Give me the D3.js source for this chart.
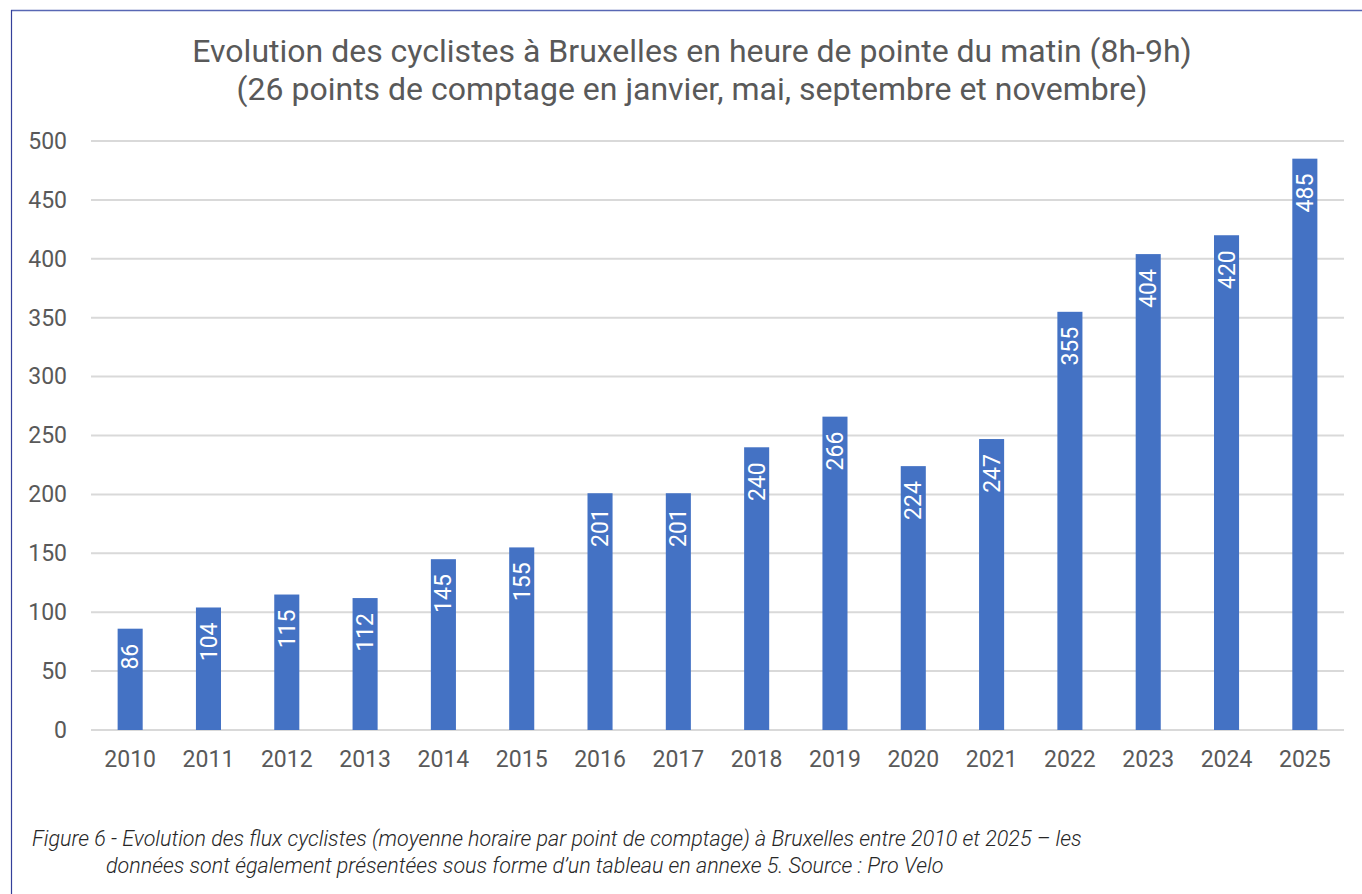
<!DOCTYPE html>
<html>
<head>
<meta charset="utf-8">
<script src="https://cdn.jsdelivr.net/npm/d3@7"></script>
<style>
  html, body { margin: 0; padding: 0; background: #fff; }
  svg { display: block; }
</style>
</head>
<body>
<div id="chart"></div>
<script>
// Data
const years = ["2010", "2011", "2012", "2013", "2014", "2015", "2016", "2017",
               "2018", "2019", "2020", "2021", "2022", "2023", "2024", "2025"];
const cyclists = [86, 104, 115, 112, 145, 155, 201, 201, 240, 266, 224, 247, 355, 404, 420, 485];
const yTicks = [0, 50, 100, 150, 200, 250, 300, 350, 400, 450, 500];
const titleLines = [
    "Evolution des cyclistes à Bruxelles en heure de pointe du matin (8h-9h)",
    "(26 points de comptage en janvier, mai, septembre et novembre)"
];
const captionLines = [
    "Figure 6 - Evolution des flux cyclistes (moyenne horaire par point de comptage) à Bruxelles entre 2010 et 2025 – les",
    "données sont également présentées sous forme d’un tableau en annexe 5. Source : Pro Velo"
];

const W = 1362, H = 894;
const margin = {top: 141, right: 18, bottom: 164, left: 91};
const width = W - margin.left - margin.right;
const height = H - margin.top - margin.bottom;

const svg = d3.select("#chart").append("svg")
    .attr("width", W)
    .attr("height", H)
    .attr("font-family", "Roboto, sans-serif");

// page frame lines
svg.append("line")
    .attr("x1", 11).attr("x2", W).attr("y1", 10.5).attr("y2", 10.5)
    .attr("stroke", "#5867b4").attr("stroke-width", 1.5);
svg.append("line")
    .attr("x1", 11.5).attr("x2", 11.5).attr("y1", 10).attr("y2", H)
    .attr("stroke", "#34409a").attr("stroke-width", 1.2);

// title
svg.append("g")
    .selectAll("text")
    .data(titleLines)
    .enter().append("text")
    .attr("x", 692)
    .attr("y", (d, i) => 62 + i * 38)
    .attr("text-anchor", "middle")
    .attr("font-size", 32)
    .attr("fill", "#595959")
    .text(d => d);

const g = svg.append("g")
    .attr("transform", "translate(" + margin.left + "," + margin.top + ")");

const x = d3.scaleBand().domain(years).range([0, width]).paddingInner(0.68).paddingOuter(0.34);
const y = d3.scaleLinear().domain([0, 500]).range([height, 0]);

// gridlines
g.append("g")
    .selectAll("line")
    .data(yTicks)
    .enter().append("line")
    .attr("x1", 0)
    .attr("x2", width)
    .attr("y1", d => y(d))
    .attr("y2", d => y(d))
    .attr("stroke", "#d9d9d9")
    .attr("stroke-width", 2);

// y axis labels
const yAxis = g.append("g")
    .call(d3.axisLeft(y).tickValues(yTicks).tickSize(0).tickPadding(24));
yAxis.select(".domain").remove();
yAxis.selectAll("text")
    .attr("font-size", 23)
    .attr("font-family", "Roboto, sans-serif")
    .attr("fill", "#595959");

// x axis labels
const xAxis = g.append("g")
    .attr("transform", "translate(0," + height + ")")
    .call(d3.axisBottom(x).tickSize(0).tickPadding(21));
xAxis.select(".domain").remove();
xAxis.selectAll("text")
    .attr("font-size", 23)
    .attr("font-family", "Roboto, sans-serif")
    .attr("fill", "#595959");

// bars
g.append("g")
    .selectAll("rect")
    .data(cyclists)
    .enter().append("rect")
    .attr("x", (d, i) => x(years[i]))
    .attr("y", d => y(d))
    .attr("width", x.bandwidth())
    .attr("height", d => height - y(d))
    .attr("fill", "#4472c4");

// value labels, rotated inside top of bars
g.append("g")
    .selectAll("text")
    .data(cyclists)
    .enter().append("text")
    .attr("transform", (d, i) => "translate(" + (x(years[i]) + x.bandwidth() / 2) + "," + (y(d) + 15) + ") rotate(-90)")
    .attr("text-anchor", "end")
    .attr("dy", "0.35em")
    .attr("font-size", 23)
    .attr("fill", "#ffffff")
    .text(d => d);

// caption
svg.append("g")
    .selectAll("text")
    .data(captionLines)
    .enter().append("text")
    .attr("x", (d, i) => i === 0 ? 32 : 106)
    .attr("y", (d, i) => 846 + i * 27)
    .attr("font-size", 21.5)
    .attr("font-style", "italic")
    .attr("font-weight", 300)
    .attr("fill", "#262626")
    .text(d => d);
</script>
</body>
</html>
